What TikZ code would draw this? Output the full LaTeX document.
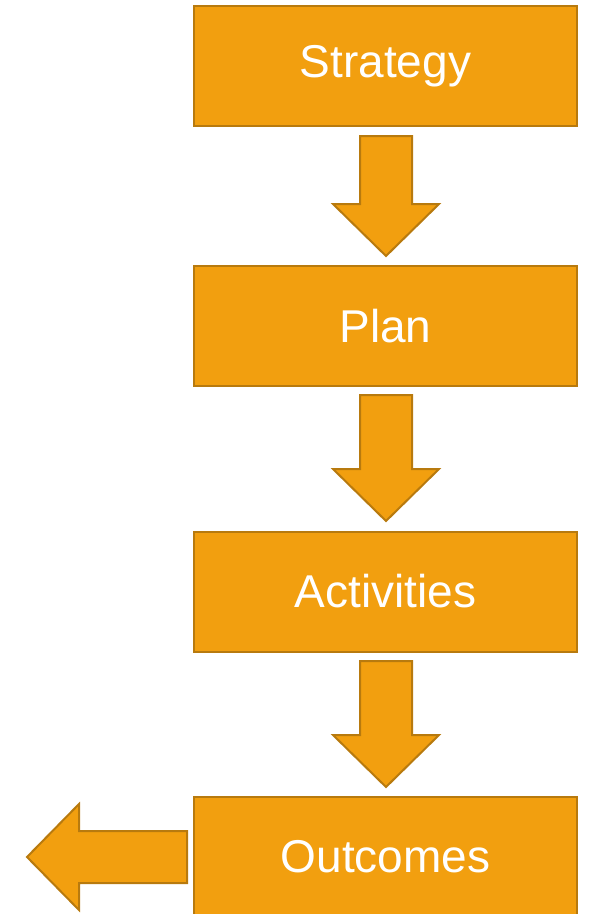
\documentclass[tikz,border=0pt]{standalone}
\usepackage{fontspec}
\setmainfont{Liberation Sans}
\definecolor{boxfill}{HTML}{F29F0F}
\definecolor{boxline}{HTML}{B87A0E}
\begin{document}
\begin{tikzpicture}[x=1pt,y=-1pt,
  stagebox/.style={draw=boxline,fill=boxfill,line width=2pt,minimum width=383pt,minimum height=120pt,inner sep=0pt,text=white,font=\fontsize{46}{50}\selectfont},
  blockarrow/.style={draw=boxline,fill=boxfill,line width=2pt,line join=miter}]
\useasboundingbox (0,0) rectangle (591,914);
\node[stagebox] (s) at (385.5,66) {Strategy};
\node[stagebox] (p) at (385.5,326) {Plan};
\node[stagebox] (a) at (385.5,591.5) {Activities};
\node[stagebox] (o) at (385.5,857) {Outcomes};
% down arrows
\foreach \t/\h/\b in {136/204/256, 395/469/521, 661/735/787}{
  \draw[blockarrow] (360,\t) -- (412,\t) -- (412,\h) -- (439,\h) -- (386,\b) -- (333,\h) -- (360,\h) -- cycle;
}
% left arrow
\draw[blockarrow] (187,831) -- (187,883) -- (79,883) -- (79,910) -- (27,857) -- (79,804) -- (79,831) -- cycle;
\end{tikzpicture}
\end{document}
